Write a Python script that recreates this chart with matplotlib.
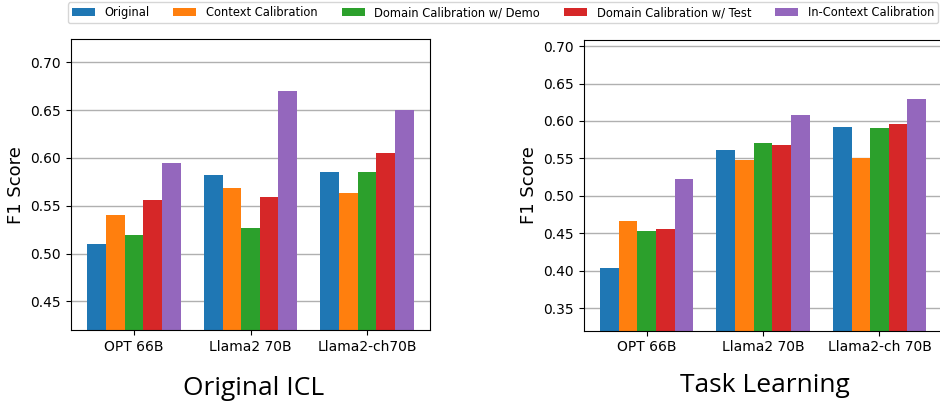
import numpy as np
import matplotlib
matplotlib.use('Agg')
import matplotlib.pyplot as plt

models_left = ["OPT 66B", "Llama2 70B", "Llama2-ch70B"]
models_right = ["OPT 66B", "Llama2 70B", "Llama2-ch 70B"]
methods = ["Original", "Context Calibration", "Domain Calibration w/ Demo",
           "Domain Calibration w/ Test", "In-Context Calibration"]

# Original ICL
icl_original = [0.510, 0.582, 0.585]
icl_context = [0.540, 0.569, 0.563]
icl_domain_demo = [0.519, 0.527, 0.585]
icl_domain_test = [0.556, 0.559, 0.605]
icl_incontext = [0.595, 0.670, 0.650]

# Task Learning
tl_original = [0.404, 0.561, 0.592]
tl_context = [0.467, 0.548, 0.550]
tl_domain_demo = [0.453, 0.570, 0.591]
tl_domain_test = [0.456, 0.568, 0.596]
tl_incontext = [0.523, 0.608, 0.629]

colors = ['#1f77b4', '#ff7f0e', '#2ca02c', '#d62728', '#9467bd']

fig = plt.figure(figsize=(9.4, 4.09), dpi=100)
ax1 = fig.add_axes([0.0755, 0.193, 0.382, 0.711])
ax2 = fig.add_axes([0.621, 0.1914, 0.3815, 0.7106])

def draw(ax, labels, series, ylim, ticks):
    x = np.arange(len(labels))
    w = 0.16
    bars = []
    for i, vals in enumerate(series):
        b = ax.bar(x + (i - 2) * w, vals, w, color=colors[i], label=methods[i])
        bars.append(b)
    ax.set_xticks(x)
    ax.set_xticklabels(labels, fontsize=10)
    ax.set_ylim(*ylim)
    ax.set_yticks(ticks)
    ax.set_yticklabels(["%.2f" % t for t in ticks], fontsize=10)
    ax.set_ylabel("F1 Score", fontsize=13)
    ax.yaxis.grid(True, color='#b0b0b0', linewidth=1)
    ax.set_axisbelow(True)
    return bars

bars = draw(ax1, models_left,
            [icl_original, icl_context, icl_domain_demo, icl_domain_test, icl_incontext],
            (0.42, 0.724), [0.45, 0.50, 0.55, 0.60, 0.65, 0.70])
draw(ax2, models_right,
     [tl_original, tl_context, tl_domain_demo, tl_domain_test, tl_incontext],
     (0.32, 0.708), [0.35, 0.40, 0.45, 0.50, 0.55, 0.60, 0.65, 0.70])

fig.legend(bars, methods, loc='upper center', bbox_to_anchor=(0.535, 1.0),
           ncol=5, fontsize=8.3, handlelength=2.0, handletextpad=0.85,
           columnspacing=2.05, borderpad=0.35, borderaxespad=0.2, frameon=True)

fig.text(0.27, 0.05, "Original ICL", fontsize=19, family=['Open Sans', 'DejaVu Sans'],
         ha='center', va='center')
fig.text(0.814, 0.058, "Task Learning", fontsize=19, family=['Open Sans', 'DejaVu Sans'],
         ha='center', va='center')

fig.savefig('out.png', dpi=100)
